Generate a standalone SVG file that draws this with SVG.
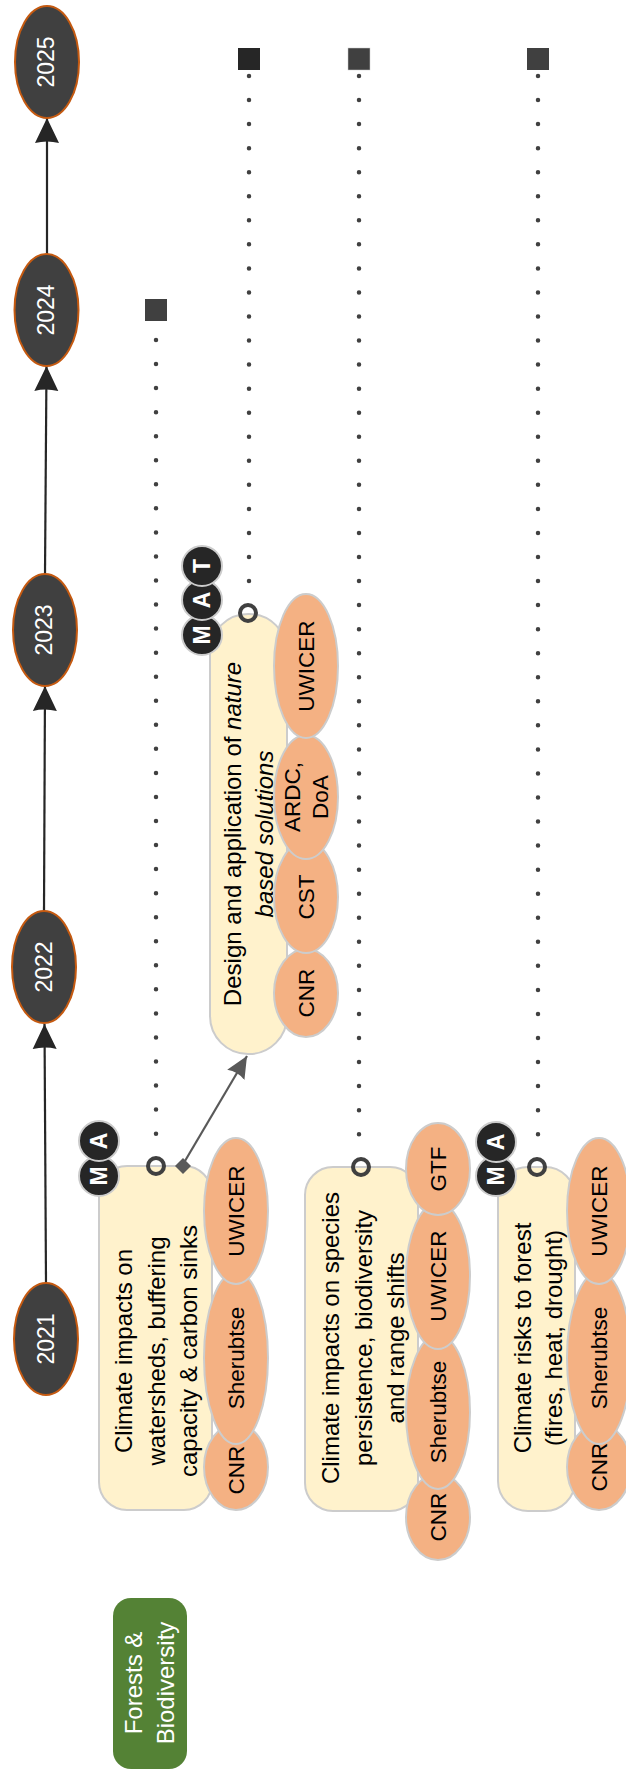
<svg xmlns="http://www.w3.org/2000/svg" width="626" height="1769" viewBox="0 0 626 1769">
<style>
text{font-family:"Liberation Sans",Arial,sans-serif;text-anchor:middle;dominant-baseline:central}
.yr ellipse{fill:#404040;stroke:#C55A11;stroke-width:2}
.yr text{fill:#fff;font-size:23px}
.card{fill:#FFF2CC;stroke:#ccc;stroke-width:2}
.ct{fill:#000;font-size:24px}
.org{fill:#F4B183;stroke:#ccc;stroke-width:2}
.ot{fill:#000;font-size:22.5px}
.bd circle{fill:#262626;stroke:#ccc;stroke-width:2}
.bd text{fill:#fff;font-size:23px;font-weight:bold}
.tl{stroke:#262626;stroke-width:2.2;fill:none}
.dots{stroke:#404040;stroke-width:4.5;stroke-linecap:round;stroke-dasharray:0 24.05;fill:none}
.ring{fill:none;stroke:#404040;stroke-width:4}
</style>
<defs>
<marker id="ah" markerUnits="userSpaceOnUse" markerWidth="26" markerHeight="28" refX="25" refY="13" orient="auto"><path d="M25 13L0 1Q3 13 0 25Z" fill="#262626"/></marker>
<marker id="ah2" markerUnits="userSpaceOnUse" markerWidth="24" markerHeight="24" refX="22" refY="11" orient="auto"><path d="M22 11L0 1Q4 11 0 21Z" fill="#595959"/></marker>
</defs>
<g id="connectors">
<path class="tl" d="M46 1283L44.500 1024" marker-end="url(#ah)"/>
<path class="tl" d="M44 911L45 686" marker-end="url(#ah)"/>
<path class="tl" d="M45 574L46.500 366" marker-end="url(#ah)"/>
<path class="tl" d="M47 254L47 118" marker-end="url(#ah)"/>
<path class="dots" d="M156 340V1150"/>
<path class="dots" d="M249 76V600"/>
<path class="dots" d="M359 76V1150"/>
<path class="dots" d="M538 76V1150"/>
<path d="M182 1166L247 1056" stroke="#595959" stroke-width="2.2" fill="none" marker-end="url(#ah2)"/>
</g>
<g id="y2025" class="yr"><ellipse cx="47" cy="62" rx="32" ry="56"/><text transform="translate(46 62) rotate(-90)">2025</text></g>
<g id="y2024" class="yr"><ellipse cx="46.500" cy="310" rx="32" ry="56"/><text transform="translate(46 310) rotate(-90)">2024</text></g>
<g id="y2023" class="yr"><ellipse cx="45" cy="630" rx="32" ry="56"/><text transform="translate(44 630) rotate(-90)">2023</text></g>
<g id="y2022" class="yr"><ellipse cx="44" cy="967" rx="32" ry="56"/><text transform="translate(44 967) rotate(-90)">2022</text></g>
<g id="y2021" class="yr"><ellipse cx="46" cy="1339" rx="32" ry="56"/><text transform="translate(46 1339) rotate(-90)">2021</text></g>
<g id="sq1"><rect x="145" y="299" width="22" height="22" fill="#404040"/></g>
<g id="sq2"><rect x="238" y="48" width="22" height="22" fill="#262626"/></g>
<g id="sq3"><rect x="348" y="48" width="22" height="22" fill="#404040" stroke="#ccc" stroke-width="0.5"/></g>
<g id="sq4"><rect x="527" y="48" width="22" height="22" fill="#404040"/></g>
<g id="group"><rect x="113" y="1598" width="74" height="171" rx="18" fill="#548235"/><text transform="translate(133 1683) rotate(-90)" fill="#fff" font-size="24">Forests &amp;</text><text transform="translate(165 1683) rotate(-90)" fill="#fff" font-size="24">Biodiversity</text></g>
<g id="card1">
<rect class="card" x="99" y="1166" width="113" height="344" rx="28"/>
<text class="ct" transform="translate(123 1351) rotate(-90)">Climate impacts on</text>
<text class="ct" transform="translate(156 1351) rotate(-90)">watersheds, buffering</text>
<text class="ct" transform="translate(188 1351) rotate(-90)">capacity &amp; carbon sinks</text>
<circle class="ring" cx="156" cy="1166" r="8"/>
<path d="M175 1166L183 1158L191 1166L183 1174Z" fill="#595959"/>
</g>
<g id="card1-orgs">
<ellipse class="org" cx="236" cy="1467" rx="32" ry="43"/><text class="ot" transform="translate(236 1470) rotate(-90)">CNR</text>
<ellipse class="org" cx="236" cy="1358" rx="32" ry="86"/><text class="ot" transform="translate(236 1358) rotate(-90)">Sherubtse</text>
<ellipse class="org" cx="236" cy="1211" rx="32" ry="73"/><text class="ot" transform="translate(236 1211) rotate(-90)">UWICER</text>
</g>
<g id="card1-badges" class="bd">
<circle cx="99" cy="1176" r="20"/><text transform="translate(99 1176) rotate(-90)">M</text>
<circle cx="99" cy="1141" r="20"/><text transform="translate(99 1141) rotate(-90)">A</text>
</g>
<g id="card2">
<rect class="card" x="305" y="1167" width="113" height="344" rx="28"/>
<text class="ct" transform="translate(330 1338) rotate(-90)">Climate impacts on species</text>
<text class="ct" transform="translate(363 1338) rotate(-90)">persistence, biodiversity</text>
<text class="ct" transform="translate(395 1338) rotate(-90)">and range shifts</text>
<circle class="ring" cx="361" cy="1167" r="8"/>
</g>
<g id="card2-orgs">
<ellipse class="org" cx="438" cy="1517" rx="32" ry="43"/><text class="ot" transform="translate(438 1517) rotate(-90)">CNR</text>
<ellipse class="org" cx="438" cy="1412" rx="32" ry="77"/><text class="ot" transform="translate(438 1412) rotate(-90)">Sherubtse</text>
<ellipse class="org" cx="438" cy="1276" rx="32" ry="73"/><text class="ot" transform="translate(438 1276) rotate(-90)">UWICER</text>
<ellipse class="org" cx="438" cy="1169" rx="32" ry="46"/><text class="ot" transform="translate(438 1169) rotate(-90)">GTF</text>
</g>
<g id="card3">
<rect class="card" x="498" y="1167" width="77" height="344" rx="30"/>
<text class="ct" transform="translate(522 1338) rotate(-90)">Climate risks to forest</text>
<text class="ct" transform="translate(553 1338) rotate(-90)">(fires, heat, drought)</text>
<circle class="ring" cx="537" cy="1167" r="8"/>
</g>
<g id="card3-orgs">
<ellipse class="org" cx="599" cy="1467" rx="32" ry="43"/><text class="ot" transform="translate(599 1467) rotate(-90)">CNR</text>
<ellipse class="org" cx="599" cy="1358" rx="32" ry="86"/><text class="ot" transform="translate(599 1358) rotate(-90)">Sherubtse</text>
<ellipse class="org" cx="599" cy="1211" rx="32" ry="73"/><text class="ot" transform="translate(599 1211) rotate(-90)">UWICER</text>
</g>
<g id="card3-badges" class="bd">
<circle cx="496" cy="1176" r="20"/><text transform="translate(496 1176) rotate(-90)">M</text>
<circle cx="496" cy="1142" r="20"/><text transform="translate(496 1142) rotate(-90)">A</text>
</g>
<g id="card4">
<rect class="card" x="210" y="614" width="77" height="440" rx="38"/>
<text class="ct" transform="translate(232 834) rotate(-90)">Design and application of <tspan font-style="italic">nature</tspan></text>
<text class="ct" transform="translate(264 834) rotate(-90)" font-style="italic">based solutions</text>
<circle class="ring" cx="248" cy="613" r="8"/>
</g>
<g id="card4-orgs">
<ellipse class="org" cx="306" cy="993" rx="32" ry="44"/><text class="ot" transform="translate(306 993) rotate(-90)">CNR</text>
<ellipse class="org" cx="306" cy="897" rx="32" ry="56"/><text class="ot" transform="translate(306 897) rotate(-90)">CST</text>
<ellipse class="org" cx="306" cy="797" rx="32" ry="62"/><text class="ot" transform="translate(292 797) rotate(-90)">ARDC,</text><text class="ot" transform="translate(320 797) rotate(-90)">DoA</text>
<ellipse class="org" cx="306" cy="666" rx="32" ry="72"/><text class="ot" transform="translate(306 666) rotate(-90)">UWICER</text>
</g>
<g id="card4-badges" class="bd">
<circle cx="202" cy="635" r="20"/><text transform="translate(202 635) rotate(-90)">M</text>
<circle cx="202" cy="600" r="20"/><text transform="translate(202 600) rotate(-90)">A</text>
<circle cx="202" cy="566" r="20"/><text transform="translate(202 566) rotate(-90)">T</text>
</g>
</svg>
